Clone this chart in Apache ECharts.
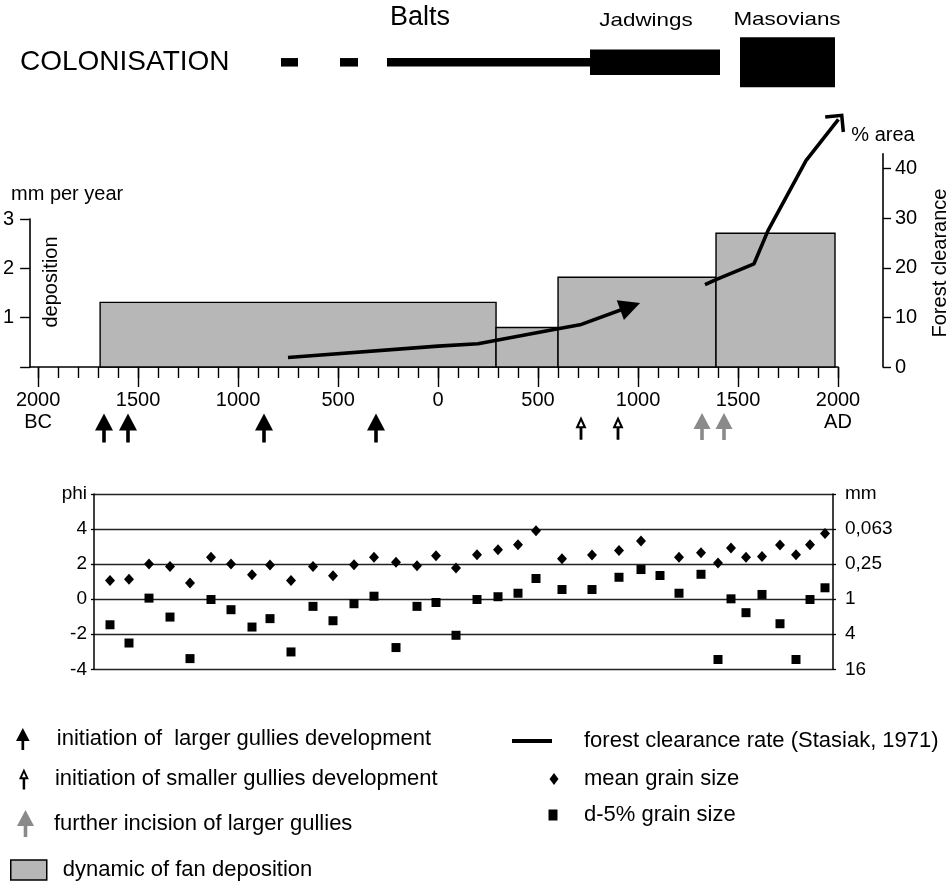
<!DOCTYPE html>
<html><head><meta charset="utf-8">
<script src="https://cdn.jsdelivr.net/npm/echarts@6/dist/echarts.min.js"></script>
<style>html,body{margin:0;padding:0;background:#fff}#c{width:950px;height:884px}</style>
</head><body><div id="c"></div>
<script>
// ---------- DATA ----------
// Colonisation phases (years; negative = BC) and relative intensity
const colonStart = [-785, -490, -255, 760, 1510];
const colonEnd   = [-700, -400, 760, 1410, 1985];
const colonLevel = [0.17, 0.17, 0.17, 0.51, 1.0];

// Fan deposition rate, mm per year
const depoStart = [-1690, 290, 600, 1390];
const depoEnd   = [290, 600, 1390, 1985];
const depoRate  = [1.31, 0.80, 1.82, 2.71];

// Forest clearance, % area (two segments)
const clearYear1 = [-750, 0, 200, 600, 710, 961];
const clearPct1  = [1.9, 4.2, 4.7, 7.7, 8.5, 12.2];
const clearYear2 = [1335, 1390, 1580, 1650, 1840, 2002];
const clearPct2  = [16.6, 17.6, 20.8, 27.5, 41.6, 49.9];

// Gully development (years)
const largerGullies   = [-1670, -1550, -870, -310];
const smallerGullies  = [715, 900];
const furtherIncision = [1320, 1430];

// Grain size samples (age, phi)
const sampleAge = [-1640, -1545, -1445, -1340, -1240, -1135, -1035, -930, -840, -735,
  -625, -525, -420, -320, -210, -105, -10, 90, 195, 300,
  400, 490, 620, 770, 905, 1015, 1110, 1205, 1315, 1400,
  1465, 1540, 1620, 1710, 1790, 1860, 1935];
const meanPhi = [1.06, 1.14, 2.01, 1.86, 0.93, 2.39, 2.01, 1.39, 1.95, 1.06,
  1.86, 1.33, 1.97, 2.39, 2.10, 1.90, 2.48, 1.78, 2.54, 2.82,
  3.11, 3.90, 2.31, 2.52, 2.77, 3.32, null, 2.39, 2.65, 2.07,
  2.92, 2.39, 2.43, 3.09, 2.54, 3.11, 3.75];
const d5Phi = [-1.46, -2.50, 0.06, -1.02, -3.39, -0.02, -0.60, -1.59, -1.11, -3.01,
  -0.41, -1.23, -0.26, 0.17, -2.76, -0.41, -0.19, -2.06, -0.02, 0.14,
  0.34, 1.18, 0.55, 0.55, 1.25, 1.69, 1.35, 0.34, 1.42, -3.44,
  0.02, -0.77, 0.27, -1.40, -3.44, -0.02, 0.65];

// Tick labels
const yearLabels = [-2000, -1500, -1000, -500, 0, 500, 1000, 1500, 2000];
const yearTicks = [-2000,-1900,-1800,-1700,-1600,-1500,-1400,-1300,-1200,-1100,-1000,-900,-800,-700,-600,-500,-400,-300,-200,-100,
  0,100,200,300,400,500,600,700,800,900,1000,1100,1200,1300,1400,1500,1600,1700,1800,1900,2000];
const depoTicks = [0, 1, 2, 3];
const depoLabels = [1, 2, 3];
const clearTicks = [0, 10, 20, 30, 40];
const phiTicks = [-4, -2, 0, 2, 4, 6];
const phiLabels = ['-4', '-2', '0', '2', '4', 'phi'];
const mmLabels = ['16', '4', '1', '0,25', '0,063', 'mm'];

// Series names
const S_LARGE = 'initiation of  larger gullies development';
const S_SMALL = 'initiation of smaller gullies development';
const S_FURTHER = 'further incision of larger gullies';
const S_FAN = 'dynamic of fan deposition';
const S_FOREST = 'forest clearance rate (Stasiak, 1971)';
const S_MEAN = 'mean grain size';
const S_D5 = 'd-5% grain size';

// ---------- STYLE ----------
const FONT = '"Liberation Sans", Arial, Helvetica, sans-serif';
const BLACK = '#000';
const GREY_FILL = '#b7b7b7';
const ARROW_GREY = '#8a8a8a';
const P_LARGE = 'path://M0,0 L9,17 L1.8,17 L1.8,29 L-1.8,29 L-1.8,17 L-9,17 Z';
const P_SMALL = 'path://M0,0 L5.5,12 L1.4,12 L1.4,23.5 L-1.4,23.5 L-1.4,12 L-5.5,12 Z M0,5 L-2.2,9.9 L2.2,9.9 Z';
const P_FURTHER = 'path://M0,0 L8.5,16 L1.8,16 L1.8,27 L-1.8,27 L-1.8,16 L-8.5,16 Z';
const P_CHEVRON = 'path://M0,0 L13,13 L10.5,15.5 L0,5 L-10.5,15.5 L-13,13 Z';

const yearFmt = v => v === -2000 ? '2000\nBC' : (v === 2000 ? '2000\nAD' : String(Math.abs(v)));

const hiddenX = (gi, min, max) => ({gridIndex: gi, type: 'value', min, max, show: false, axisLine: {onZero: false}});
const hiddenY = (gi, min, max) => ({gridIndex: gi, type: 'value', min, max, show: false, axisLine: {onZero: false}});

// forest line data with gap
const forestData = [];
clearYear1.forEach((y, i) => {
  const last = i === clearYear1.length - 1;
  forestData.push(last ? {value: [y, clearPct1[i]], symbol: 'triangle', symbolSize: [21, 21], symbolRotate: -70} : {value: [y, clearPct1[i]]});
});
forestData.push({value: ['-', '-']});
clearYear2.forEach((y, i) => {
  const last = i === clearYear2.length - 1;
  forestData.push(last ? {value: [y, clearPct2[i]], symbol: P_CHEVRON, symbolSize: [26, 15.5], symbolRotate: -39.4} : {value: [y, clearPct2[i]]});
});

const chart = echarts.init(document.getElementById('c'), null, {renderer: 'canvas', width: 950, height: 884});

const legendBase = {padding: 0, selectedMode: false, orient: 'vertical',
  textStyle: {fontFamily: FONT, fontSize: 22, color: BLACK}};
const legendText = pad => Object.assign({}, legendBase.textStyle, {padding: [0, 0, 0, pad]});

chart.setOption({
  animation: false,
  backgroundColor: '#fff',
  textStyle: {fontFamily: FONT},
  grid: [
    {left: 30, width: 808, top: 37.3, height: 50},        // colonisation
    {left: 30, width: 808, top: 219, height: 148},        // deposition
    {left: 30, width: 808, top: 153.7, height: 213.3},    // forest clearance
    {left: 30, width: 808, top: 413, height: 30},         // gully arrows
    {left: 94, width: 739, top: 494, height: 175.3}       // grain size
  ],
  xAxis: [
    hiddenX(0, -2040, 2000),
    {gridIndex: 1, type: 'value', min: -2040, max: 2000, position: 'bottom',
      axisLine: {show: true, onZero: false, lineStyle: {color: BLACK, width: 1.6}},
      axisTick: {show: true, customValues: yearTicks, length: 11, lineStyle: {color: BLACK, width: 1.4}},
      axisLabel: {customValues: yearLabels, formatter: yearFmt, fontSize: 20, color: BLACK, margin: 22, lineHeight: 22, fontFamily: FONT},
      splitLine: {show: false}},
    {gridIndex: 1, type: 'value', min: -2040, max: 2000, position: 'bottom',
      axisLine: {show: false, onZero: false},
      axisTick: {show: true, customValues: yearLabels, length: 20, lineStyle: {color: BLACK, width: 1.4}},
      axisLabel: {show: false}, splitLine: {show: false}},
    hiddenX(2, -2040, 2000),
    hiddenX(3, -2040, 2000),
    hiddenX(4, -1720, 1975)
  ],
  yAxis: [
    hiddenY(0, -1, 1),
    {gridIndex: 1, type: 'value', min: 0, max: 3, position: 'left',
      axisLine: {show: true, onZero: false, lineStyle: {color: BLACK, width: 1.6}},
      axisTick: {show: true, customValues: depoTicks, length: 10, lineStyle: {color: BLACK, width: 1.4}},
      axisLabel: {customValues: depoLabels, fontSize: 20, color: BLACK, margin: 16, fontFamily: FONT},
      splitLine: {show: false}},
    {gridIndex: 2, type: 'value', min: 0, max: 43, position: 'right', offset: 45,
      name: '% area', nameLocation: 'end', nameGap: 8,
      nameTextStyle: {fontSize: 20, color: BLACK, fontFamily: FONT},
      axisLine: {show: true, onZero: false, lineStyle: {color: BLACK, width: 1.6}},
      axisTick: {show: true, customValues: clearTicks, length: 8, lineStyle: {color: BLACK, width: 1.4}},
      axisLabel: {customValues: clearTicks, fontSize: 20, color: BLACK, margin: 12, fontFamily: FONT},
      splitLine: {show: false}},
    hiddenY(3, -1, 1),
    {gridIndex: 4, type: 'value', min: -4, max: 6, interval: 2, position: 'left',
      axisLine: {show: true, onZero: false, lineStyle: {color: BLACK, width: 1.5}},
      axisTick: {show: true, length: 3, lineStyle: {color: BLACK, width: 1.3}},
      axisLabel: {fontSize: 19, color: BLACK, margin: 7, fontFamily: FONT,
        formatter: v => phiLabels[phiTicks.indexOf(v)]},
      splitLine: {show: true, lineStyle: {color: '#222', width: 1.4}}},
    {gridIndex: 4, type: 'value', min: -4, max: 6, interval: 2, position: 'right',
      axisLine: {show: true, onZero: false, lineStyle: {color: BLACK, width: 1.5}},
      axisTick: {show: true, length: 3, lineStyle: {color: BLACK, width: 1.3}},
      axisLabel: {fontSize: 19, color: BLACK, margin: 12, fontFamily: FONT,
        formatter: v => mmLabels[phiTicks.indexOf(v)]},
      splitLine: {show: false}}
  ],
  legend: [
    Object.assign({}, legendBase, {left: 16, top: 728, itemWidth: 14, itemHeight: 22,
      data: [{name: S_LARGE, icon: P_LARGE}], textStyle: legendText(22)}),
    Object.assign({}, legendBase, {left: 19, top: 768, itemWidth: 10, itemHeight: 21,
      data: [{name: S_SMALL, icon: P_SMALL}], textStyle: legendText(21)}),
    Object.assign({}, legendBase, {left: 17, top: 810, itemWidth: 19, itemHeight: 27,
      data: [{name: S_FURTHER, icon: P_FURTHER}], textStyle: legendText(14)}),
    Object.assign({}, legendBase, {left: 10, top: 859, itemWidth: 36, itemHeight: 20,
      itemStyle: {color: GREY_FILL, borderColor: BLACK, borderWidth: 1.5},
      data: [{name: S_FAN, icon: 'rect'}], textStyle: legendText(11)}),
    Object.assign({}, legendBase, {left: 512, top: 730, itemWidth: 40, itemHeight: 4,
      data: [{name: S_FOREST, icon: 'rect'}], textStyle: legendText(27)}),
    Object.assign({}, legendBase, {left: 549.5, top: 768, itemWidth: 9, itemHeight: 12,
      data: [{name: S_MEAN, icon: 'diamond'}], textStyle: legendText(20.5)}),
    Object.assign({}, legendBase, {left: 548.5, top: 804, itemWidth: 9, itemHeight: 11,
      data: [{name: S_D5, icon: 'rect'}], textStyle: legendText(21.5)})
  ],
  series: [
    {type: 'custom', name: 'colonisation', xAxisIndex: 0, yAxisIndex: 0,
      data: colonStart.map((s, i) => [s, colonEnd[i], colonLevel[i]]),
      renderItem: (p, api) => {
        const a = api.coord([api.value(0), api.value(2)]);
        const b = api.coord([api.value(1), -api.value(2)]);
        return {type: 'rect', shape: {x: a[0], y: a[1], width: b[0] - a[0], height: b[1] - a[1]}, style: {fill: BLACK}};
      }},
    {type: 'custom', name: S_FAN, xAxisIndex: 1, yAxisIndex: 1, z: 2,
      itemStyle: {color: GREY_FILL},
      data: depoStart.map((s, i) => [s, depoEnd[i], depoRate[i]]),
      renderItem: (p, api) => {
        const a = api.coord([api.value(0), api.value(2)]);
        const b = api.coord([api.value(1), 0]);
        return {type: 'rect', shape: {x: a[0], y: a[1], width: b[0] - a[0], height: b[1] - a[1]},
          style: {fill: GREY_FILL, stroke: BLACK, lineWidth: 1.4}};
      }},
    {type: 'line', name: S_FOREST, xAxisIndex: 3, yAxisIndex: 2, z: 5, clip: false,
      showSymbol: true, symbol: 'none', connectNulls: false,
      lineStyle: {color: BLACK, width: 3.6}, itemStyle: {color: BLACK, opacity: 1},
      data: forestData},
    {type: 'scatter', name: S_LARGE, xAxisIndex: 4, yAxisIndex: 3,
      symbol: P_LARGE, symbolSize: [18, 29], itemStyle: {color: BLACK, opacity: 1},
      data: largerGullies.map(y => [y, 0])},
    {type: 'scatter', name: S_SMALL, xAxisIndex: 4, yAxisIndex: 3,
      symbol: P_SMALL, symbolSize: [11, 23.5], itemStyle: {color: BLACK, opacity: 1},
      data: smallerGullies.map(y => [y, 0])},
    {type: 'scatter', name: S_FURTHER, xAxisIndex: 4, yAxisIndex: 3,
      symbol: P_FURTHER, symbolSize: [17, 27], itemStyle: {color: ARROW_GREY, opacity: 1},
      data: furtherIncision.map(y => [y, 0.1])},
    {type: 'scatter', name: S_MEAN, xAxisIndex: 5, yAxisIndex: 4, z: 4,
      symbol: 'diamond', symbolSize: [10, 11], itemStyle: {color: BLACK, opacity: 1},
      data: sampleAge.map((a, i) => meanPhi[i] == null ? [a, '-'] : [a, meanPhi[i]])},
    {type: 'scatter', name: S_D5, xAxisIndex: 5, yAxisIndex: 4, z: 4,
      symbol: 'rect', symbolSize: 9, itemStyle: {color: BLACK, opacity: 1},
      data: sampleAge.map((a, i) => [a, d5Phi[i]])}
  ],
  graphic: [
    {type: 'text', x: 20, y: 62, style: {text: 'COLONISATION', fontSize: 28, fontFamily: FONT, fill: BLACK, align: 'left', verticalAlign: 'middle'}},
    {type: 'text', x: 420, y: 18, style: {text: 'Balts', fontSize: 27, fontFamily: FONT, fill: BLACK, align: 'center', verticalAlign: 'middle'}},
    {type: 'text', x: 646, y: 21, scaleX: 1.18, style: {text: 'Jadwings', fontSize: 19, fontFamily: FONT, fill: BLACK, align: 'center', verticalAlign: 'middle'}},
    {type: 'text', x: 787, y: 20, scaleX: 1.18, style: {text: 'Masovians', fontSize: 19, fontFamily: FONT, fill: BLACK, align: 'center', verticalAlign: 'middle'}},
    {type: 'text', x: 11, y: 194, style: {text: 'mm per year', fontSize: 20, fontFamily: FONT, fill: BLACK, align: 'left', verticalAlign: 'middle'}},
    {type: 'text', x: 51, y: 282, rotation: Math.PI / 2, style: {text: 'deposition', fontSize: 20, fontFamily: FONT, fill: BLACK, align: 'center', verticalAlign: 'middle'}},
    {type: 'text', x: 940, y: 263, rotation: Math.PI / 2, style: {text: 'Forest clearance', fontSize: 20, fontFamily: FONT, fill: BLACK, align: 'center', verticalAlign: 'middle'}},
    {type: 'text', x: 686, y: 293, style: {text: '?', fontSize: 22, fontWeight: 'bold', fontFamily: FONT, fill: BLACK, align: 'center', verticalAlign: 'middle'}}
  ]
});
</script></body></html>
